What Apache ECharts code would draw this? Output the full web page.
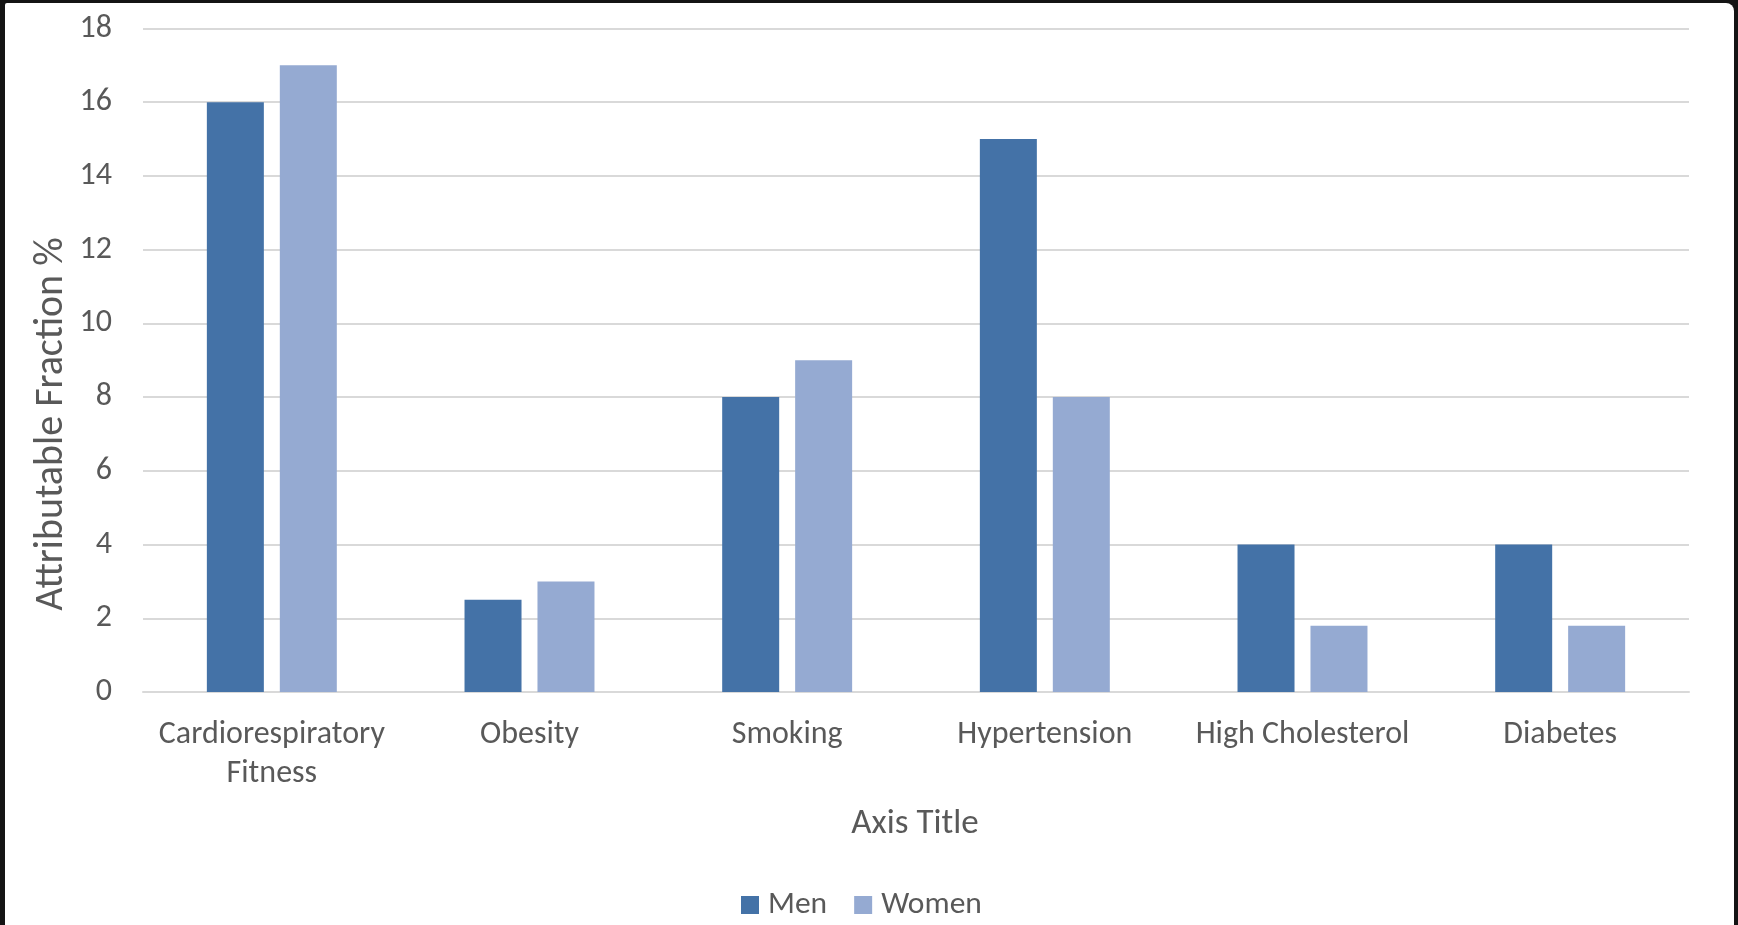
<!DOCTYPE html>
<html>
<head>
<meta charset="utf-8">
<script src="https://cdn.jsdelivr.net/npm/echarts@6/dist/echarts.min.js"></script>
<style>
  html, body { margin: 0; padding: 0; width: 1738px; height: 925px; overflow: hidden; background: #141414; }
  #frame { position: absolute; left: 5px; top: 3px; width: 1729px; height: 922px; background: #ffffff; border-top-right-radius: 8px; border-top-left-radius: 2px; }
  #chart { position: absolute; left: 0; top: 0; width: 1738px; height: 925px; }
</style>
</head>
<body>
<div id="frame"></div>
<div id="chart"></div>
<script>
const categories = ['Cardiorespiratory\nFitness', 'Obesity', 'Smoking', 'Hypertension', 'High Cholesterol', 'Diabetes'];
const menValues = [16, 2.5, 8, 15, 4, 4];
const womenValues = [17, 3, 9, 8, 1.8, 1.8];
const seriesNames = ['Men', 'Women'];
const yTicks = { min: 0, max: 18, interval: 2 };
const yAxisTitle = 'Attributable Fraction %';
const xAxisTitle = 'Axis Title';

const FONT = 'Carlito, Lato, sans-serif';
const TXT = '#595959';

const chart = echarts.init(document.getElementById('chart'), null, { renderer: 'canvas' });
chart.setOption({
  backgroundColor: 'transparent',
  animation: false,
  textStyle: { fontFamily: FONT },
  grid: { left: 143, right: 49, top: 28.5, bottom: 233, containLabel: false },
  legend: {
    data: seriesNames,
    left: 741,
    top: 889,
    padding: 0,
    itemWidth: 18,
    itemHeight: 18,
    itemGap: 27,
    icon: 'rect',
    textStyle: { color: TXT, fontSize: 31.5, fontFamily: FONT, padding: [0, 0, 0, 4], lineHeight: 18 }
  },
  xAxis: {
    type: 'category',
    data: categories,
    axisLine: { show: true, lineStyle: { color: '#D9D9D9', width: 2 } },
    axisTick: { show: false },
    axisLabel: { color: TXT, fontSize: 32, fontFamily: FONT, lineHeight: 39, margin: 23, interval: 0 }
  },
  yAxis: {
    type: 'value',
    min: yTicks.min,
    max: yTicks.max,
    interval: yTicks.interval,
    axisLine: { show: false },
    axisTick: { show: false },
    axisLabel: { color: TXT, fontSize: 32, fontFamily: FONT, margin: 31 },
    splitLine: { show: true, lineStyle: { color: '#D9D9D9', width: 2 } }
  },
  series: [
    {
      name: seriesNames[0], type: 'bar', data: menValues,
      barWidth: 57, barGap: '28%',
      itemStyle: { color: '#4472A7' }
    },
    {
      name: seriesNames[1], type: 'bar', data: womenValues,
      barWidth: 57, barGap: '28%',
      itemStyle: { color: '#95AAD2' }
    }
  ],
  graphic: [
    {
      type: 'text', x: 52, y: 424, rotation: Math.PI / 2,
      style: { text: yAxisTitle, fill: TXT, font: '40px ' + FONT, textAlign: 'center', textVerticalAlign: 'middle' }
    },
    {
      type: 'text', x: 915, y: 824,
      style: { text: xAxisTitle, fill: TXT, font: '35px ' + FONT, textAlign: 'center', textVerticalAlign: 'middle' }
    }
  ]
});
</script>
</body>
</html>
